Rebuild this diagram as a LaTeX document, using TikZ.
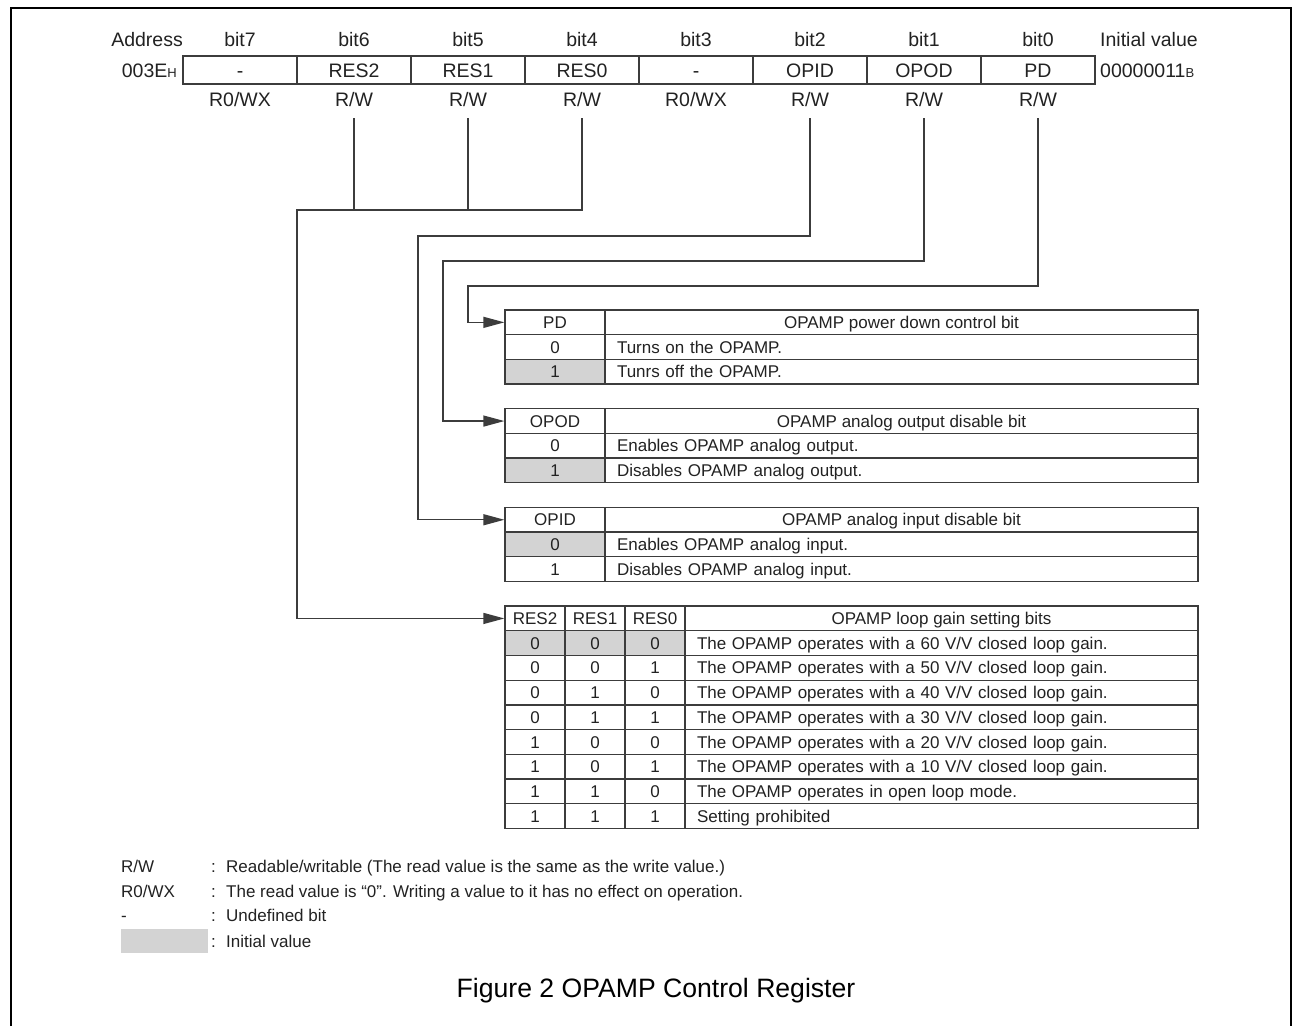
\documentclass[tikz,border=0pt]{standalone}
\usepackage{fontspec}
\setmainfont{Liberation Sans}
\usetikzlibrary{arrows.meta}
\definecolor{linec}{RGB}{60,60,60}
\definecolor{txtc}{RGB}{34,34,34}
\definecolor{initgray}{RGB}{211,211,211}
\newcommand{\regfont}{\fontsize{19.5}{22}\selectfont}
\newcommand{\tabfont}{\fontsize{17}{20}\selectfont}
\newcommand{\capfont}{\fontsize{26.6}{30}\selectfont}
\newcommand{\smallsub}[1]{{\fontsize{13}{13}\selectfont #1}}
\newcommand{\VV}{V/V}
\begin{document}
\begin{tikzpicture}[x=1pt,y=-1pt,
  lbl/.style={inner sep=0pt, font=\regfont, text=txtc, text height=14pt, text depth=0pt},
  regcell/.style={draw=linec, line width=1.3pt, minimum width=114pt, minimum height=28pt, inner sep=0pt, font=\regfont, text=txtc, text height=14pt, text depth=0pt},
  cell/.style={draw=linec, line width=1.3pt, inner sep=0pt, minimum height=24.7pt, text height=12.6pt, text depth=0.4pt, font=\tabfont, text=txtc},
  desc/.style={cell, inner xsep=12pt, align=left},
  ini/.style={fill=initgray},
  conn/.style={draw=linec, line width=1.3pt},
  arr/.style={conn, -{Triangle[length=21pt,width=11pt]}},
  leg/.style={inner sep=0pt, anchor=west, font=\tabfont, text=txtc, text height=12.6pt, text depth=0.4pt},
]
\useasboundingbox (0,0) rectangle (1303,1026);
\fill[white] (0,0) rectangle (1303,1026);
% outer frame
\draw[line width=2pt, black] (11,1026) -- (11,8) -- (1291,8) -- (1291,1026);

% register header
\node[lbl, anchor=east] (addr) at (183,39) {Address};
\foreach \i/\x in {7/240,6/354,5/468,4/582,3/696,2/810,1/924,0/1038}
  \node[lbl] (bit\i) at (\x,39) {bit\i};
\node[lbl, anchor=west] (initv) at (1100,39) {Initial value};
\node[lbl, anchor=east] (addrv) at (177,70) {003E\smallsub{H}};
\node[lbl, anchor=west] (initval) at (1100,70) {00000011\smallsub{B}};
\node[regcell] (reg7) at (240,70) {-};
\node[regcell] (reg6) at (354,70) {RES2};
\node[regcell] (reg5) at (468,70) {RES1};
\node[regcell] (reg4) at (582,70) {RES0};
\node[regcell] (reg3) at (696,70) {-};
\node[regcell] (reg2) at (810,70) {OPID};
\node[regcell] (reg1) at (924,70) {OPOD};
\node[regcell] (reg0) at (1038,70) {PD};
\node[lbl] (acc7) at (240,99) {R0/WX};
\node[lbl] (acc6) at (354,99) {R/W};
\node[lbl] (acc5) at (468,99) {R/W};
\node[lbl] (acc4) at (582,99) {R/W};
\node[lbl] (acc3) at (696,99) {R0/WX};
\node[lbl] (acc2) at (810,99) {R/W};
\node[lbl] (acc1) at (924,99) {R/W};
\node[lbl] (acc0) at (1038,99) {R/W};

% PD table
\node[cell, minimum width=100pt] (pdH) at (555,322.35) {PD};
\node[cell, minimum width=593pt] (pdHd) at (901.5,322.35) {OPAMP power down control bit};
\node[cell, minimum width=100pt] (pd0) at (555,347.05) {0};
\node[desc, text width=569pt] (pd0d) at (901.5,347.05) {Turns on the OPAMP.};
\node[cell, ini, minimum width=100pt] (pd1) at (555,371.75) {1};
\node[desc, text width=569pt] (pd1d) at (901.5,371.75) {Tunrs off the OPAMP.};

% OPOD table
\node[cell, minimum width=100pt] (opodH) at (555,421.05) {OPOD};
\node[cell, minimum width=593pt] (opodHd) at (901.5,421.05) {OPAMP analog output disable bit};
\node[cell, minimum width=100pt] (opod0) at (555,445.75) {0};
\node[desc, text width=569pt] (opod0d) at (901.5,445.75) {Enables OPAMP analog output.};
\node[cell, ini, minimum width=100pt] (opod1) at (555,470.45) {1};
\node[desc, text width=569pt] (opod1d) at (901.5,470.45) {Disables OPAMP analog output.};

% OPID table
\node[cell, minimum width=100pt] (opidH) at (555,519.75) {OPID};
\node[cell, minimum width=593pt] (opidHd) at (901.5,519.75) {OPAMP analog input disable bit};
\node[cell, ini, minimum width=100pt] (opid0) at (555,544.45) {0};
\node[desc, text width=569pt] (opid0d) at (901.5,544.45) {Enables OPAMP analog input.};
\node[cell, minimum width=100pt] (opid1) at (555,569.15) {1};
\node[desc, text width=569pt] (opid1d) at (901.5,569.15) {Disables OPAMP analog input.};

% RES table
\node[cell, minimum width=60pt] (rs2H) at (535,618.45) {RES2};
\node[cell, minimum width=60pt] (rs1H) at (595,618.45) {RES1};
\node[cell, minimum width=60pt] (rs0H) at (655,618.45) {RES0};
\node[cell, minimum width=513pt] (rsHd) at (941.5,618.45) {OPAMP loop gain setting bits};
\node[cell, ini, minimum width=60pt] (ra1) at (535,643.15) {0};
\node[cell, ini, minimum width=60pt] (rb1) at (595,643.15) {0};
\node[cell, ini, minimum width=60pt] (rc1) at (655,643.15) {0};
\node[desc, text width=489pt] (rd1) at (941.5,643.15) {The OPAMP operates with a 60 \VV{} closed loop gain.};
\foreach \k/\a/\b/\c/\d in {
  2/0/0/1/{The OPAMP operates with a 50 \VV{} closed loop gain.},
  3/0/1/0/{The OPAMP operates with a 40 \VV{} closed loop gain.},
  4/0/1/1/{The OPAMP operates with a 30 \VV{} closed loop gain.},
  5/1/0/0/{The OPAMP operates with a 20 \VV{} closed loop gain.},
  6/1/0/1/{The OPAMP operates with a 10 \VV{} closed loop gain.},
  7/1/1/0/{The OPAMP operates in open loop mode.},
  8/1/1/1/{Setting prohibited}}{
  \pgfmathsetmacro\yy{606.1+24.7*(\k+0.5)}
  \node[cell, minimum width=60pt] (ra\k) at (535,\yy) {\a};
  \node[cell, minimum width=60pt] (rb\k) at (595,\yy) {\b};
  \node[cell, minimum width=60pt] (rc\k) at (655,\yy) {\c};
  \node[desc, text width=489pt] (rd\k) at (941.5,\yy) {\d};
}

% connectors
\coordinate (s6) at (354,118);
\coordinate (s5) at (468,118);
\coordinate (s4) at (582,118);
\coordinate (s2) at (810,118);
\coordinate (s1) at (924,118);
\coordinate (s0) at (1038,118);
\coordinate (jL) at (297,210);
\coordinate (c2) at (418,236);
\coordinate (c1) at (443,261);
\coordinate (c0) at (468,286);
\draw[conn] (s6) -- (s6 |- jL);
\draw[conn] (s5) -- (s5 |- jL);
\draw[arr] (s4) |- (jL) |- (rs2H.west);
\draw[arr] (s2) |- (c2) |- (opidH.west);
\draw[arr] (s1) |- (c1) |- (opodH.west);
\draw[arr] (s0) |- (c0) |- (pdH.west);

% legend
\node[leg] (lg1) at (121,866) {R/W};
\node[leg] (lg1t) at (211,866) {\makebox[15pt][l]{:}Readable/writable (The read value is the same as the write value.)};
\node[leg] (lg2) at (121,891) {R0/WX};
\node[leg] (lg2t) at (211,891) {\makebox[15pt][l]{:}The read value is “0”. Writing a value to it has no effect on operation.};
\node[leg] (lg3) at (121,915) {-};
\node[leg] (lg3t) at (211,915) {\makebox[15pt][l]{:}Undefined bit};
\node[fill=initgray, minimum width=87pt, minimum height=24pt, inner sep=0pt, anchor=north west] (legbox) at (121,929) {};
\node[leg] (lg4t) at (211,941) {\makebox[15pt][l]{:}Initial value};

% caption
\node[font=\capfont, text=black, inner sep=0pt] (cap) at (656,991) {Figure 2 OPAMP Control Register};
\end{tikzpicture}
\end{document}
